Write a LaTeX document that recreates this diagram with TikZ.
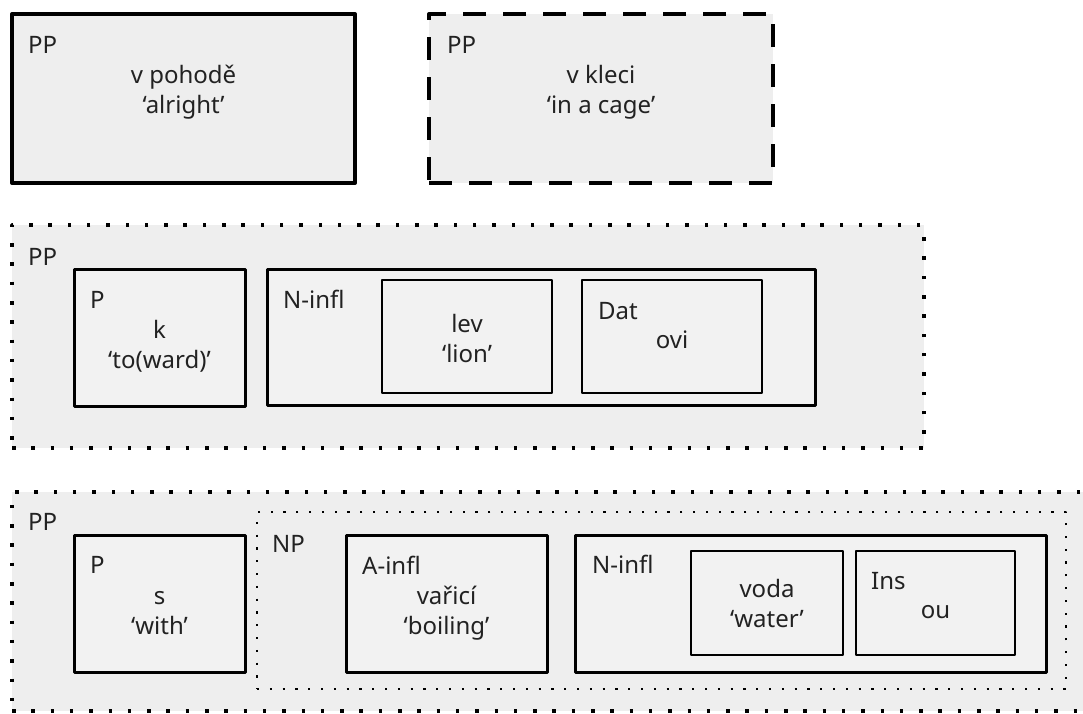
\documentclass[tikz,border=0pt]{standalone}
\usepackage{fontspec}
\setmainfont{Noto Sans}
\definecolor{outerfill}{RGB}{238,238,238}
\definecolor{innerfill}{RGB}{242,242,242}
\definecolor{ink}{RGB}{34,34,34}
\tikzset{
  box/.style={draw=black, rectangle, outer sep=0pt, inner sep=0pt, anchor=north west, line join=round},
  pptop/.style={box, fill=outerfill, line width=4pt},
  ppdash/.style={box, fill=outerfill, line width=4pt, dash pattern=on 23pt off 17pt},
  ppdot/.style={box, fill=outerfill, line width=3.5pt, dash pattern=on 3.5pt off 15.8pt},
  npdot/.style={box, fill=outerfill, line width=2.2pt, dash pattern=on 2.2pt off 10.6pt},
  midbox/.style={box, fill=innerfill, line width=3pt},
  smallbox/.style={box, fill=innerfill, line width=1.6pt},
  lbl/.style={anchor=base west, inner sep=0pt, text=ink, font=\fontsize{24}{30}\selectfont},
  word/.style={anchor=base, inner sep=0pt, text=ink, font=\fontsize{24}{30}\selectfont},
}
\begin{document}
\begin{tikzpicture}[x=1pt,y=-1pt]
\useasboundingbox (0,0) rectangle (1083,713);
\begin{scope}
\clip (0,0) rectangle (1083,713);
% Row 1
\node[pptop, minimum width=343, minimum height=169] (pp1) at (12,14) {};
\node[lbl] (pp1l) at (28,53) {PP};
\node[word] (pp1a) at (183.5,83) {v pohodě};
\node[word] (pp1b) at (183.5,113) {‘alright’};

\node[ppdash, minimum width=344, minimum height=169] (pp2) at (429,14) {};
\node[lbl] (pp2l) at (447,53) {PP};
\node[word] (pp2a) at (601,83) {v kleci};
\node[word] (pp2b) at (601,113) {‘in a cage’};

% Row 2
\node[ppdot, minimum width=912, minimum height=223] (pp3) at (12,225) {};
\node[lbl] (pp3l) at (28,265) {PP};
\node[midbox, minimum width=171, minimum height=137] (p3) at (74,269) {};
\node[lbl] (p3l) at (90,308) {P};
\node[word] (p3a) at (159.5,338) {k};
\node[word] (p3b) at (159.5,368) {‘to(ward)’};
\node[midbox, minimum width=548, minimum height=136] (n3) at (267,269) {};
\node[lbl] (n3l) at (283,308) {N-infl};
\node[smallbox, minimum width=170, minimum height=113] (lev) at (382,280) {};
\node[word] (leva) at (467,332) {lev};
\node[word] (levb) at (467,362) {‘lion’};
\node[smallbox, minimum width=180, minimum height=113] (dat) at (582,280) {};
\node[lbl] (datl) at (598,319) {Dat};
\node[word] (data) at (672,348) {ovi};

% Row 3
\node[ppdot, minimum width=1100, minimum height=219] (pp4) at (12,492) {};
\node[lbl] (pp4l) at (28,530) {PP};
\node[midbox, minimum width=171, minimum height=137] (p4) at (74,535) {};
\node[lbl] (p4l) at (90,573) {P};
\node[word] (p4a) at (159.5,604) {s};
\node[word] (p4b) at (159.5,634) {‘with’};
\node[npdot, minimum width=809, minimum height=177] (np) at (257,512) {};
\node[lbl] (npl) at (272,552) {NP};
\node[midbox, minimum width=201, minimum height=137] (a4) at (346,535) {};
\node[lbl] (a4l) at (362,574) {A-infl};
\node[word] (a4a) at (446.5,604) {vařicí};
\node[word] (a4b) at (446.5,634) {‘boiling’};
\node[midbox, minimum width=471, minimum height=137] (n4) at (575,535) {};
\node[lbl] (n4l) at (592,573) {N-infl};
\node[smallbox, minimum width=152, minimum height=104] (voda) at (691,551) {};
\node[word] (vodaa) at (767,597) {voda};
\node[word] (vodab) at (767,627) {‘water’};
\node[smallbox, minimum width=159, minimum height=104] (ins) at (856,551) {};
\node[lbl] (insl) at (871,589) {Ins};
\node[word] (insa) at (935.5,618) {ou};
\end{scope}
\end{tikzpicture}
\end{document}
